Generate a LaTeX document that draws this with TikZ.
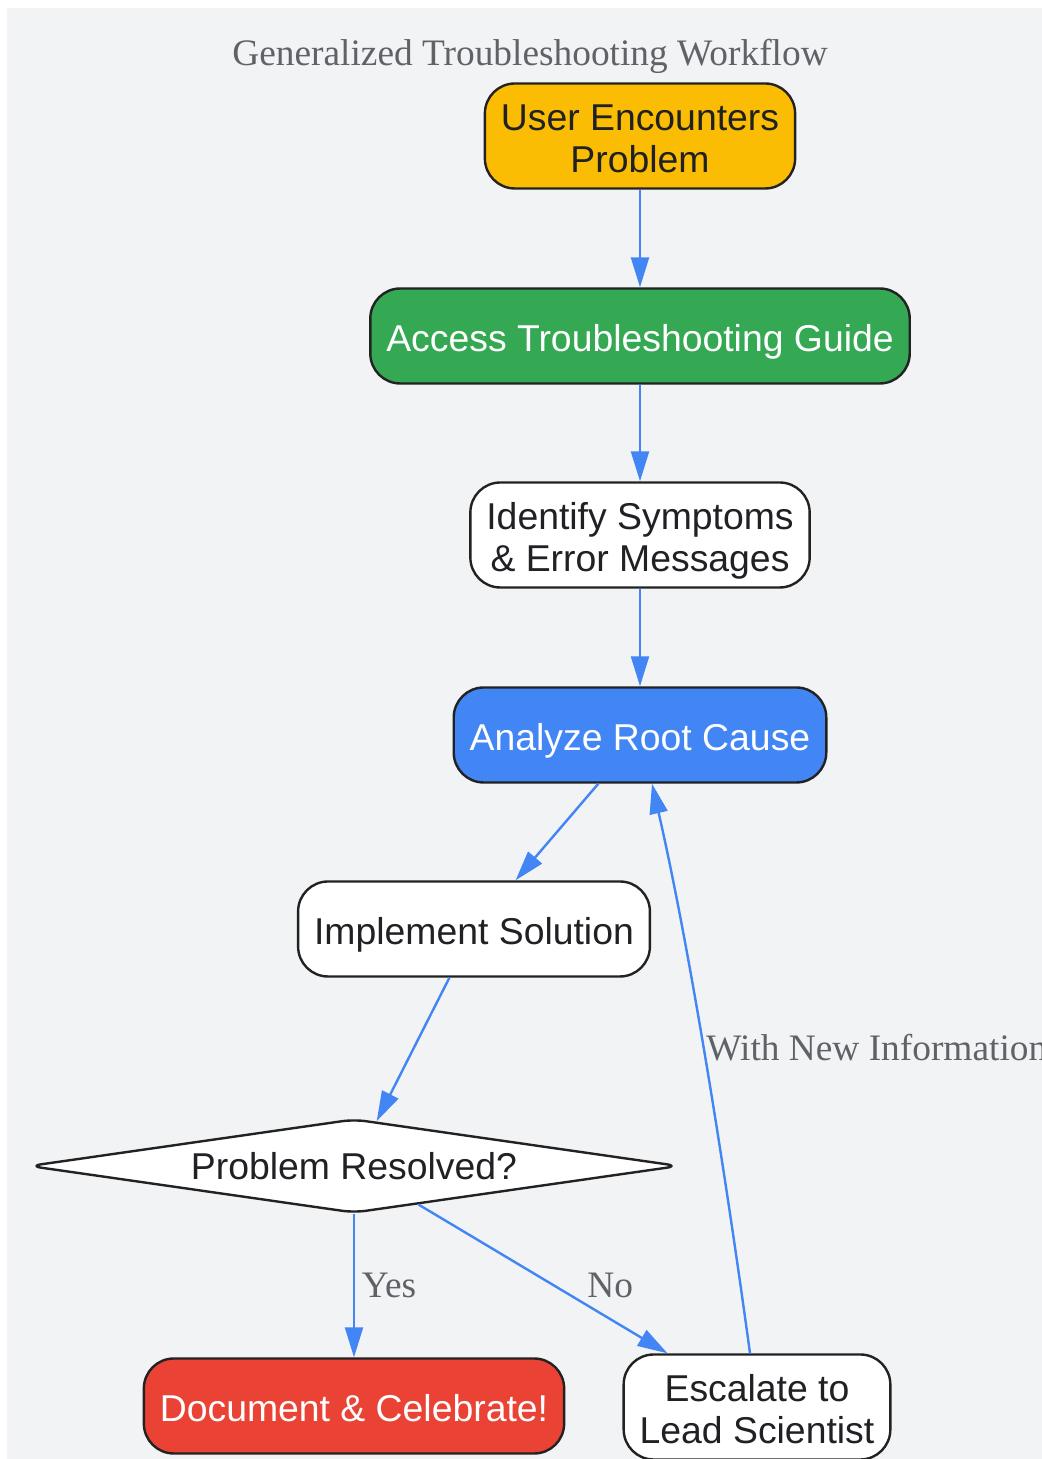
\documentclass[tikz,border=0pt]{standalone}
\usepackage{fontspec}
\setmainfont{Liberation Sans}
\newfontfamily\labelfont{Liberation Serif}
\usepackage{xcolor}
\usetikzlibrary{arrows.meta,shapes.geometric}
\definecolor{bgGray}{HTML}{F2F3F5}
\definecolor{lineDark}{HTML}{222222}
\definecolor{textDark}{HTML}{202124}
\definecolor{labelGray}{HTML}{5F6368}
\definecolor{flowBlue}{HTML}{4285F4}
\definecolor{gYellow}{HTML}{FBBC04}
\definecolor{gGreen}{HTML}{34A853}
\definecolor{gRed}{HTML}{EA4335}

\tikzset{
  stepbox/.style={draw=lineDark, line width=2.4bp, rounded corners=30bp, fill=white,
    align=center, inner xsep=16bp, inner ysep=10bp, minimum height=95bp,
    text height=38bp, text depth=7.6bp,
    text=textDark, font=\fontsize{37.5}{42}\selectfont},
  twoline/.style={text height=80bp, text depth=7.6bp, inner ysep=8.7bp},
  decisionbox/.style={draw=lineDark, line width=2.4bp, diamond, aspect=7, fill=white,
    minimum width=650bp, minimum height=94bp, inner sep=0pt, rounded corners=12bp,
    text=textDark, font=\fontsize{37.5}{42}\selectfont},
  flow/.style={->, draw=flowBlue, line width=2.4bp},
  flowlabel/.style={font=\labelfont\fontsize{37.5}{42}\selectfont, text=labelGray},
}

\begin{document}
\begin{tikzpicture}[>={Triangle[length=30bp,width=18bp]},line join=round]
\useasboundingbox (0bp,0bp) rectangle (1042bp,1459bp);
\clip (0bp,0bp) rectangle (1042bp,1459bp);
\fill[bgGray] (7bp,0bp) rectangle (1042bp,1451bp);
%%
\node (title) at (530bp,1403bp) [flowlabel] {Generalized Troubleshooting Workflow};
%
\node (user) at (640bp,1323bp) [stepbox, twoline, fill=gYellow] {User Encounters\\Problem};
  \node (guide) at (640bp,1123bp) [stepbox, fill=gGreen, text=white] {Access Troubleshooting Guide};
  \node (symptoms) at (640bp,924bp) [stepbox, twoline] {Identify Symptoms\\\& Error Messages};
  \node (analyze) at (640bp,724bp) [stepbox, fill=flowBlue, text=white] {Analyze Root Cause};
  \node (implement) at (474bp,530bp) [stepbox] {Implement Solution};
  \node (resolved) at (354bp,293bp) [decisionbox] {Problem Resolved?};
  \node (celebrate) at (354bp,53bp) [stepbox, fill=gRed, text=white] {Document \& Celebrate!};
  \node (escalate) at (757bp,52bp) [stepbox, twoline] {Escalate to\\Lead Scientist};
%
  \draw [flow] (user) -- (guide);
  \draw [flow] (guide) -- (symptoms);
  \draw [flow] (symptoms) -- (analyze);
  \draw [flow] (analyze) -- (implement);
  \draw [flow] (implement) -- (resolved);
  \draw [flow] (resolved) -- node [flowlabel, pos=0.5, xshift=35bp] {Yes} (celebrate);
  \draw [flow] (resolved) -- node [flowlabel, pos=0.77, yshift=34bp] {No} (escalate);
  \draw [flow] ([xshift=-7bp]escalate.north) .. controls (725bp,289bp) and (690bp,509bp)
    .. node [flowlabel, pos=0.5, anchor=west, xshift=-4bp, yshift=14bp] {With New Information}
    ([xshift=12bp]analyze.south);
%
\end{tikzpicture}
\end{document}
